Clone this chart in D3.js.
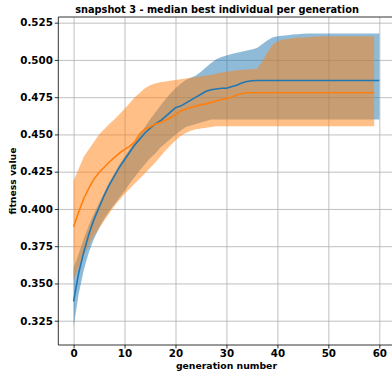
<!DOCTYPE html>
<html>
<head>
<meta charset="utf-8">
<script src="https://cdn.jsdelivr.net/npm/d3@7"></script>
<style>
	body { margin: 0; background: #fff; }
	text { font-family: 'DejaVu Sans', sans-serif; font-weight: bold; fill: #000; }
</style>
</head>
<body>
<div id="chart"></div>
<script>
//
// data
//
const chartTitle = 'snapshot 3 - median best individual per generation';
const xLabel = 'generation number';
const yLabel = 'fitness value';

const xTicks = [0, 10, 20, 30, 40, 50, 60];
const yTicks = [0.325, 0.350, 0.375, 0.400, 0.425, 0.450, 0.475, 0.500, 0.525];

// blue run: generations 0..60
const blueMedian = [
	0.338, 0.357, 0.371, 0.383, 0.393, 0.401, 0.409, 0.416, 0.422, 0.428,
	0.433, 0.438, 0.443, 0.447, 0.451, 0.454, 0.457, 0.459, 0.462, 0.465,
	0.468, 0.469, 0.471, 0.473, 0.475, 0.477, 0.479, 0.480, 0.4805, 0.481,
	0.481, 0.482, 0.483, 0.4845, 0.4855, 0.486, 0.4862, 0.4862, 0.4862, 0.4862,
	0.4862, 0.4862, 0.4862, 0.4862, 0.4862, 0.4862, 0.4862, 0.4862, 0.4862, 0.4862,
	0.4862, 0.4862, 0.4862, 0.4862, 0.4862, 0.4862, 0.4862, 0.4862, 0.4862, 0.4862,
	0.4862
];
const blueLow = [
	0.321, 0.343, 0.359, 0.371, 0.380, 0.387, 0.3935, 0.3985, 0.403, 0.4075,
	0.412, 0.417, 0.4215, 0.426, 0.430, 0.434, 0.437, 0.441, 0.444, 0.447,
	0.450, 0.4525, 0.455, 0.456, 0.457, 0.458, 0.459, 0.460, 0.460, 0.460,
	0.460, 0.460, 0.460, 0.460, 0.460, 0.460, 0.460, 0.460, 0.460, 0.460,
	0.460, 0.460, 0.460, 0.460, 0.460, 0.460, 0.460, 0.460, 0.460, 0.460,
	0.460, 0.460, 0.460, 0.460, 0.460, 0.460, 0.460, 0.460, 0.460, 0.460,
	0.460
];
const blueHigh = [
	0.3606, 0.370, 0.380, 0.389, 0.397, 0.404, 0.411, 0.418, 0.424, 0.430,
	0.435, 0.440, 0.445, 0.450, 0.455, 0.460, 0.4645, 0.469, 0.4735, 0.4775,
	0.481, 0.484, 0.4865, 0.488, 0.4895, 0.492, 0.495, 0.498, 0.5005, 0.502,
	0.503, 0.504, 0.5048, 0.5055, 0.5063, 0.507, 0.508, 0.5105, 0.513, 0.515,
	0.5158, 0.5162, 0.5166, 0.517, 0.5172, 0.5175, 0.5178, 0.5178, 0.5178, 0.5178,
	0.5178, 0.5178, 0.5178, 0.5178, 0.5178, 0.5178, 0.5178, 0.5178, 0.5178, 0.5178,
	0.5178
];

// orange run: generations 0..59
const orangeMedian = [
	0.388, 0.398, 0.407, 0.414, 0.420, 0.4245, 0.428, 0.4315, 0.4345, 0.4375,
	0.440, 0.442, 0.445, 0.4505, 0.4535, 0.455, 0.457, 0.458, 0.4595, 0.461,
	0.4635, 0.4655, 0.467, 0.468, 0.469, 0.470, 0.4705, 0.4715, 0.4725, 0.4735,
	0.474, 0.475, 0.4765, 0.4775, 0.478, 0.478, 0.478, 0.478, 0.478, 0.478,
	0.478, 0.478, 0.478, 0.478, 0.478, 0.478, 0.478, 0.478, 0.478, 0.478,
	0.478, 0.478, 0.478, 0.478, 0.478, 0.478, 0.478, 0.478, 0.478, 0.478
];
const orangeLow = [
	0.3526, 0.361, 0.369, 0.376, 0.382, 0.387, 0.392, 0.397, 0.402, 0.406,
	0.410, 0.4135, 0.417, 0.4205, 0.424, 0.4275, 0.431, 0.435, 0.439, 0.4425,
	0.446, 0.449, 0.451, 0.4525, 0.4535, 0.454, 0.4545, 0.455, 0.4555, 0.4555,
	0.4555, 0.4555, 0.4555, 0.4555, 0.4555, 0.4555, 0.4555, 0.4555, 0.4555, 0.4555,
	0.4555, 0.4555, 0.4555, 0.4555, 0.4555, 0.4555, 0.4555, 0.4555, 0.4555, 0.4555,
	0.4555, 0.4555, 0.4555, 0.4555, 0.4555, 0.4555, 0.4555, 0.4555, 0.4555, 0.4555
];
const orangeHigh = [
	0.419, 0.427, 0.435, 0.440, 0.445, 0.450, 0.4535, 0.457, 0.460, 0.4635,
	0.467, 0.471, 0.475, 0.478, 0.481, 0.483, 0.4842, 0.485, 0.4855, 0.486,
	0.4865, 0.487, 0.4875, 0.488, 0.4885, 0.489, 0.4895, 0.490, 0.4908, 0.4915,
	0.492, 0.4925, 0.493, 0.4933, 0.4935, 0.4938, 0.494, 0.499, 0.505, 0.510,
	0.5125, 0.5135, 0.514, 0.5145, 0.515, 0.515, 0.5152, 0.5155, 0.5157, 0.5158,
	0.5158, 0.5158, 0.5158, 0.5158, 0.5158, 0.5158, 0.5158, 0.5158, 0.5158, 0.5158
];

const seriesList = [
	{ median: blueMedian, low: blueLow, high: blueHigh, color: '#1f77b4' },
	{ median: orangeMedian, low: orangeLow, high: orangeHigh, color: '#ff7f0e' }
];

//
// layout
//
const width = 392;
const height = 372;
const margin = { top: 17, left: 58.3, bottom: 27, right: -2.6 };
const plotW = width - margin.left - margin.right;
const plotH = height - margin.top - margin.bottom;

const svg = d3.select('#chart').append('svg')
	.attr('width', width)
	.attr('height', height);

const x = d3.scaleLinear().domain([-3, 63]).range([0, plotW]);
const y = d3.scaleLinear().domain([0.3087, 0.5288]).range([plotH, 0]);

const g = svg.append('g')
	.attr('transform', 'translate(' + margin.left + ',' + margin.top + ')');

//
// grid
//
g.append('g')
	.attr('class', 'grid')
	.attr('transform', 'translate(0,' + plotH + ')')
	.call(d3.axisBottom(x).tickValues(xTicks).tickSize(-plotH).tickFormat(''));

g.append('g')
	.attr('class', 'grid')
	.call(d3.axisLeft(y).tickValues(yTicks).tickSize(-plotW).tickFormat(''));

g.selectAll('.grid .domain').remove();
g.selectAll('.grid line')
	.attr('stroke', '#b0b0b0')
	.attr('stroke-width', 0.8);

//
// bands and medians
//
seriesList.forEach((s) => {
	const rows = s.median.map((m, i) => ({ gen: i, lo: s.low[i], hi: s.high[i] }));
	const area = d3.area()
		.x((d) => x(d.gen))
		.y0((d) => y(d.lo))
		.y1((d) => y(d.hi));
	g.append('path')
		.datum(rows)
		.attr('d', area)
		.attr('fill', s.color)
		.attr('fill-opacity', 0.5);
});

seriesList.forEach((s) => {
	const line = d3.line()
		.x((d, i) => x(i))
		.y((d) => y(d));
	g.append('path')
		.datum(s.median)
		.attr('d', line)
		.attr('fill', 'none')
		.attr('stroke', s.color)
		.attr('stroke-width', 1.6);
});

//
// axes
//
const xAxis = g.append('g')
	.attr('transform', 'translate(0,' + plotH + ')')
	.call(d3.axisBottom(x).tickValues(xTicks).tickSize(3.5).tickPadding(1.5).tickFormat(d3.format('d')));

const yAxis = g.append('g')
	.call(d3.axisLeft(y).tickValues(yTicks).tickSize(3.5).tickPadding(2).tickFormat(d3.format('.3f')));

[xAxis, yAxis].forEach((a) => {
	a.selectAll('text')
		.style('font-family', "'DejaVu Sans', sans-serif")
		.style('font-weight', 'bold')
		.style('font-size', '10.3px')
		.attr('fill', '#000');
	a.selectAll('line').attr('stroke', '#000').attr('stroke-width', 0.8);
	a.select('.domain').remove();
});

// spines
g.append('line')
	.attr('x1', 0).attr('x2', 0).attr('y1', 0).attr('y2', plotH)
	.attr('stroke', '#000').attr('stroke-width', 0.8);
g.append('line')
	.attr('x1', 0).attr('x2', plotW).attr('y1', plotH).attr('y2', plotH)
	.attr('stroke', '#000').attr('stroke-width', 0.8);
g.append('line')
	.attr('x1', 0).attr('x2', plotW).attr('y1', 0).attr('y2', 0)
	.attr('stroke', '#000').attr('stroke-width', 0.8);

//
// labels
//
svg.append('text')
	.attr('x', 217)
	.attr('y', 13)
	.attr('text-anchor', 'middle')
	.style('font-size', '9.8px')
	.text(chartTitle);

svg.append('text')
	.attr('x', margin.left + x(30))
	.attr('y', 369)
	.attr('text-anchor', 'middle')
	.style('font-size', '9.3px')
	.text(xLabel);

svg.append('text')
	.attr('transform', 'translate(16,' + (margin.top + plotH / 2) + ') rotate(-90)')
	.attr('text-anchor', 'middle')
	.style('font-size', '9.3px')
	.text(yLabel);
</script>
</body>
</html>
